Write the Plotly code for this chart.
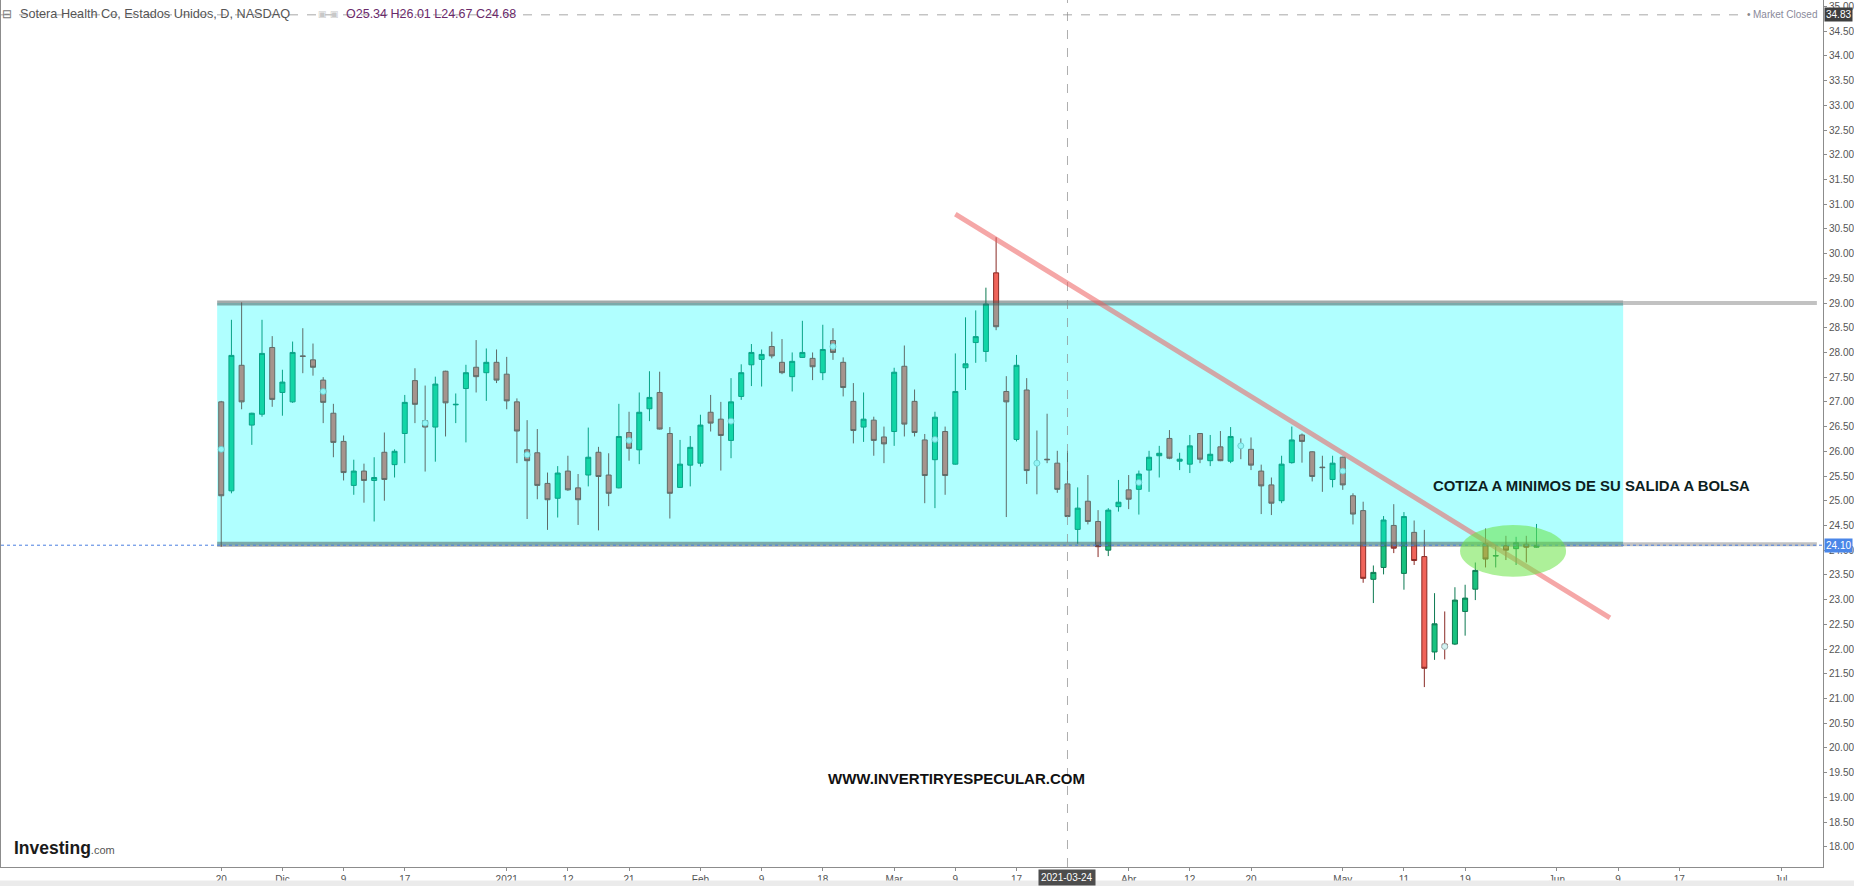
import plotly.graph_objects as go

# ---------------- data (trading-day index 0 = 2020-11-20) ----------------
opens = [27.00, 25.20, 27.74, 26.53, 26.75, 28.10, 27.19, 27.00, 27.93, 27.85,
         27.44, 26.77, 26.20, 25.31, 25.60, 25.41, 25.98, 25.73, 26.36, 27.43,
         26.62, 26.49, 27.62, 26.94, 27.27, 27.70, 27.59, 27.80, 27.56, 27.00,
         26.03, 25.97, 25.35, 25.05, 25.60, 25.26, 25.52, 25.98, 25.52, 25.26,
         26.38, 26.03, 26.86, 27.19, 26.36, 25.27, 25.72, 25.76, 26.79, 26.65,
         26.22, 27.11, 27.75, 27.86, 28.12, 27.80, 27.51, 27.90, 27.88, 27.59,
         28.24, 27.80, 27.01, 26.49, 26.63, 26.29, 26.40, 27.72, 27.01, 26.23,
         25.83, 26.40, 25.74, 27.69, 28.20, 28.02, 29.61, 27.21, 26.24, 27.24,
         25.77, 25.84, 25.76, 25.34, 24.42, 24.99, 24.58, 24.00, 24.88, 25.22,
         25.23, 25.62, 25.91, 26.26, 25.80, 25.74, 26.36, 25.81, 26.09, 25.80,
         26.12, 26.04, 25.60, 25.32, 25.00, 25.77, 26.33, 25.99, 25.68, 25.43,
         25.88, 25.10, 24.80, 23.41, 23.65, 24.50, 23.53, 24.36, 23.87, 21.94,
         22.10, 22.10, 22.76, 23.21, 24.13, 23.88, 24.09, 24.03, 24.12, 24.06]
highs = [27.02, 28.66, 29.01, 26.78, 28.66, 28.33, 27.65, 28.22, 28.49, 28.18,
         27.50, 26.96, 26.32, 25.83, 25.75, 25.88, 26.38, 26.04, 27.14, 27.68,
         27.33, 27.51, 27.63, 27.17, 27.75, 28.25, 28.08, 28.06, 27.91, 27.07,
         26.63, 26.45, 25.57, 25.70, 25.91, 25.54, 26.48, 26.09, 25.96, 26.96,
         26.80, 27.19, 27.62, 27.61, 26.49, 26.23, 26.31, 26.74, 27.14, 27.00,
         27.48, 27.76, 28.17, 28.06, 28.42, 28.27, 28.00, 28.64, 28.00, 28.56,
         28.49, 27.90, 27.38, 27.19, 26.70, 26.50, 27.69, 28.14, 27.25, 26.35,
         26.80, 26.50, 27.98, 28.71, 28.85, 29.31, 30.33, 27.52, 27.95, 27.48,
         26.42, 26.76, 26.01, 26.01, 25.27, 25.52, 24.81, 24.85, 25.42, 25.52,
         25.61, 26.01, 26.11, 26.43, 25.97, 26.33, 26.37, 26.33, 26.41, 26.49,
         26.26, 26.28, 25.73, 25.47, 25.91, 26.50, 26.36, 26.00, 25.91, 25.91,
         25.89, 25.15, 24.98, 23.69, 24.69, 24.93, 24.77, 24.60, 24.41, 23.13,
         22.76, 23.25, 23.30, 23.75, 24.44, 24.07, 24.29, 24.27, 24.29, 24.53]
lows = [24.07, 25.15, 26.85, 26.13, 26.70, 26.90, 26.72, 26.98, 27.58, 27.53,
        26.57, 25.88, 25.41, 25.12, 24.96, 24.58, 25.00, 25.47, 25.76, 26.57,
        25.59, 25.79, 26.30, 26.57, 26.18, 27.19, 27.02, 27.38, 26.85, 25.76,
        24.63, 25.03, 24.41, 24.66, 25.20, 24.51, 25.29, 24.40, 24.89, 25.25,
        25.81, 25.74, 26.61, 26.44, 24.64, 25.26, 25.29, 25.69, 26.40, 25.61,
        25.86, 27.04, 27.32, 27.31, 27.88, 27.56, 27.21, 27.89, 27.44, 27.44,
        27.85, 27.11, 26.16, 26.19, 25.91, 25.76, 26.11, 26.30, 26.30, 24.95,
        24.85, 25.12, 25.73, 27.24, 27.79, 27.81, 28.45, 24.67, 26.20, 25.34,
        25.13, 25.76, 25.16, 24.67, 24.13, 24.52, 23.86, 23.88, 24.78, 24.83,
        24.72, 25.18, 25.47, 25.84, 25.62, 25.56, 25.76, 25.70, 25.80, 25.76,
        25.84, 25.62, 24.73, 24.71, 24.95, 25.75, 25.77, 25.39, 25.18, 25.27,
        25.22, 24.52, 23.34, 22.93, 23.51, 23.94, 23.20, 23.70, 21.23, 21.78,
        21.79, 22.08, 22.27, 22.99, 23.65, 23.65, 23.80, 23.70, 23.75, 24.05]
closes = [25.10, 27.94, 27.00, 26.77, 27.98, 27.05, 27.40, 28.00, 27.92, 27.70,
          26.99, 26.18, 25.57, 25.60, 25.41, 25.47, 25.43, 26.00, 26.99, 26.95,
          26.49, 27.36, 26.98, 26.95, 27.59, 27.51, 27.80, 27.44, 27.02, 26.41,
          25.81, 25.31, 25.02, 25.56, 25.22, 25.02, 25.88, 25.49, 25.15, 26.30,
          26.06, 26.79, 27.09, 26.45, 25.15, 25.74, 26.08, 26.53, 26.57, 26.32,
          27.00, 27.59, 28.00, 27.96, 27.93, 27.59, 27.82, 28.00, 27.71, 28.06,
          28.00, 27.29, 26.42, 26.65, 26.22, 26.15, 27.60, 26.55, 26.38, 25.51,
          26.69, 25.51, 27.21, 27.77, 28.32, 28.98, 28.52, 27.00, 27.74, 25.61,
          25.76, 25.83, 25.23, 24.68, 24.85, 24.58, 24.07, 24.81, 24.97, 25.03,
          25.54, 25.88, 25.96, 25.86, 25.84, 26.11, 25.84, 25.94, 25.81, 26.30,
          26.11, 25.72, 25.30, 24.95, 25.74, 26.23, 26.20, 25.49, 25.67, 25.76,
          25.32, 24.73, 23.43, 23.55, 24.61, 24.04, 24.68, 23.79, 21.61, 22.51,
          22.02, 22.99, 23.03, 23.59, 23.82, 23.89, 24.00, 24.15, 24.06, 24.10]
day_index = list(range(len(closes)))

# small circular markers shown every 10th session
marker_idx = [0, 10, 20, 30, 40, 50, 60, 70, 80, 90, 100, 110, 120]
marker_val = [26.04, 27.21, 26.57, 25.93, 26.22, 26.61, 28.12, 26.24, 25.76, 25.37, 26.11, 25.60, 22.05]

# x-axis ticks (trading-day positions) and labels
tick_idx = [0, 6, 12, 18, 28, 34, 40, 47, 53, 59, 66, 72, 78, 89, 95, 101, 110, 116, 122, 131, 137, 143, 153]
tick_labels = ["20", "Dic", "9", "17", "2021", "12", "21", "Feb", "9", "18", "Mar", "9", "17",
               "Abr", "12", "20", "May", "11", "19", "Jun", "9", "17", "Jul"]

# price axis ticks
price_ticks = [18.0 + 0.5 * k for k in range(35)]
price_labels = [f"{v:.2f}" for v in price_ticks]

# drawings
box_x = [-0.4, 137.5]
box_y = [24.10, 29.00]
support_level = 24.12
resistance_level = 29.00
trend_x = [72.0, 136.2]
trend_y = [30.80, 22.63]
ellipse_x = [121.5, 131.9]
ellipse_y = [23.46, 24.51]
crosshair_idx = 83
crosshair_label = "2021-03-24"
last_price = 24.10
market_closed_price = 34.83

x_range = [-21.6, 157.1]
y_range = [17.59, 35.13]

NARROW = "Liberation Sans Narrow, Arial Narrow, Liberation Sans, Arial, sans-serif"
SANS = "Liberation Sans, Arial, sans-serif"

fig = go.Figure()
fig.add_trace(go.Candlestick(
    x=day_index, open=opens, high=highs, low=lows, close=closes,
    increasing=dict(fillcolor="#19c27f", line=dict(color="#0d7a52", width=1)),
    decreasing=dict(fillcolor="#f0645a", line=dict(color="#8a2b26", width=1)),
    whiskerwidth=0, hoverinfo="skip", showlegend=False,
))
fig.add_trace(go.Scatter(
    x=marker_idx, y=marker_val, mode="markers",
    marker=dict(size=6, color="#d4f2f2", line=dict(width=0.8, color="#8fb0b0")),
    hoverinfo="skip", showlegend=False,
))

shapes = []
# cyan range box
shapes.append(dict(type="rect", xref="x", yref="y", x0=box_x[0], x1=box_x[1], y0=box_y[0], y1=box_y[1],
                   fillcolor="rgba(0,255,255,0.31)", line=dict(width=0), layer="above"))
# horizontal levels (darker over the box, lighter beyond it)
for lvl in (resistance_level, support_level):
    shapes.append(dict(type="line", xref="x", yref="y", x0=box_x[0], x1=box_x[1], y0=lvl, y1=lvl,
                       line=dict(color="rgba(70,85,85,0.5)", width=5), layer="above"))
    shapes.append(dict(type="line", xref="x", yref="y", x0=box_x[1], x1=x_range[1] - 0.6, y0=lvl, y1=lvl,
                       line=dict(color="rgba(120,120,120,0.45)", width=4), layer="above"))
# last price dotted line
shapes.append(dict(type="line", xref="paper", yref="y", x0=0, x1=1, y0=last_price, y1=last_price,
                   line=dict(color="#4a7ee0", width=1, dash="dot"), layer="above"))
# market closed dashed line
shapes.append(dict(type="line", xref="paper", yref="y", x0=0, x1=0.957, y0=market_closed_price, y1=market_closed_price,
                   line=dict(color="#a8a8a8", width=1, dash="dash"), layer="above"))
# crosshair
shapes.append(dict(type="line", xref="x", yref="paper", x0=crosshair_idx, x1=crosshair_idx, y0=0, y1=1,
                   line=dict(color="rgba(140,140,140,0.7)", width=1, dash="dash"), layer="above"))
# trend line
shapes.append(dict(type="line", xref="x", yref="y", x0=trend_x[0], x1=trend_x[1], y0=trend_y[0], y1=trend_y[1],
                   line=dict(color="rgba(236,95,95,0.55)", width=5), layer="above"))
# green ellipse
shapes.append(dict(type="circle", xref="x", yref="y", x0=ellipse_x[0], x1=ellipse_x[1], y0=ellipse_y[0], y1=ellipse_y[1],
                   fillcolor="rgba(105,228,70,0.55)", line=dict(width=0), layer="above"))
# bottom scrollbar strip
shapes.append(dict(type="rect", xref="paper", yref="paper", x0=-0.001, x1=1.018, y0=-0.0225, y1=-0.0155,
                   fillcolor="#ebebeb", line=dict(width=0), layer="above"))

ci = crosshair_idx
header_vals = (f"O{opens[ci]:.2f} H{highs[ci]:.2f} L{lows[ci]:.2f} C{closes[ci]:.2f}")

annotations = [
    dict(xref="paper", yref="paper", x=0.0, y=0.9839, xanchor="left", yanchor="middle", xshift=-1,
         text="⊟", showarrow=False, font=dict(family=SANS, size=12, color="#777777")),
    dict(xref="paper", yref="paper", x=0.0093, y=0.9839, xanchor="left", yanchor="middle",
         text="Sotera Health Co, Estados Unidos, D, NASDAQ", showarrow=False,
         font=dict(family=SANS, size=12.7, color="#555555")),
    dict(xref="paper", yref="paper", x=0.1730, y=0.9839, xanchor="left", yanchor="middle",
         text="▣ ▣", showarrow=False, font=dict(family=SANS, size=9, color="#c8c8c8")),
    dict(xref="paper", yref="paper", x=0.1882, y=0.9839, xanchor="left", yanchor="middle",
         text=header_vals, showarrow=False, font=dict(family=SANS, size=12.5, color="#6b2a6b")),
    dict(xref="paper", yref="y", x=0.9978, y=market_closed_price, xanchor="right", yanchor="middle",
         text="Market Closed", showarrow=False, font=dict(family=SANS, size=10, color="#8a8a9a")),
    dict(xref="paper", yref="y", x=0.9595, y=market_closed_price, xanchor="center", yanchor="middle",
         text="•", showarrow=False, font=dict(family=SANS, size=10, color="#888888")),
    dict(xref="paper", yref="y", x=1.0, y=market_closed_price, xanchor="left", yanchor="middle",
         text=f"{market_closed_price:.2f}", showarrow=False, bgcolor="#3f3f3f", borderpad=1, xshift=1,
         font=dict(family=NARROW, size=10, color="white")),
    dict(xref="paper", yref="y", x=1.0, y=last_price, xanchor="left", yanchor="middle",
         text=f"{last_price:.2f}", showarrow=False, bgcolor="#4a86e8", borderpad=1, xshift=1,
         font=dict(family=NARROW, size=10, color="white")),
    dict(xref="x", yref="paper", x=crosshair_idx, y=-0.002, xanchor="center", yanchor="top",
         text=crosshair_label, showarrow=False, bgcolor="#4d4d4d", borderpad=2,
         font=dict(family=NARROW, size=10, color="white")),
    dict(xref="x", yref="y", x=118.7, y=25.30, xanchor="left", yanchor="middle",
         text="<b>COTIZA A MINIMOS DE SU SALIDA A BOLSA</b>", showarrow=False,
         font=dict(family=NARROW, size=14.9, color="#0d1f1f")),
    dict(xref="x", yref="y", x=72.1, y=19.39, xanchor="center", yanchor="middle",
         text="<b>WWW.INVERTIRYESPECULAR.COM</b>", showarrow=False,
         font=dict(family=NARROW, size=15, color="#111111")),
    dict(xref="paper", yref="paper", x=0.006, y=0.022, xanchor="left", yanchor="middle",
         text="<b>Investing</b><span style='font-size:11px;color:#555'>.com</span>", showarrow=False,
         font=dict(family=SANS, size=17.5, color="#1a1a1a")),
]

fig.update_layout(
    width=1854, height=886,
    margin=dict(l=1, r=31, t=0, b=19, autoexpand=False),
    paper_bgcolor="white", plot_bgcolor="white",
    showlegend=False,
    shapes=shapes, annotations=annotations,
    xaxis=dict(range=x_range, rangeslider=dict(visible=False), tickmode="array",
               tickvals=tick_idx, ticktext=tick_labels, showgrid=False, zeroline=False,
               showline=True, linecolor="#8c8c8c", linewidth=1, ticks="outside", ticklen=3,
               tickcolor="#8c8c8c", tickfont=dict(family=NARROW, size=10, color="#555555"), fixedrange=True),
    yaxis=dict(side="right", range=y_range, tickmode="array", tickvals=price_ticks, ticktext=price_labels,
               showgrid=False, zeroline=False, showline=True, mirror=True, linecolor="#8c8c8c", linewidth=1,
               ticks="outside", ticklen=3, tickcolor="#8c8c8c",
               tickfont=dict(family=NARROW, size=10, color="#555555"), fixedrange=True),
)

fig.write_html("out.html", config={"displayModeBar": False},
               post_script="document.body.style.margin='0';document.body.style.overflow='hidden';")
